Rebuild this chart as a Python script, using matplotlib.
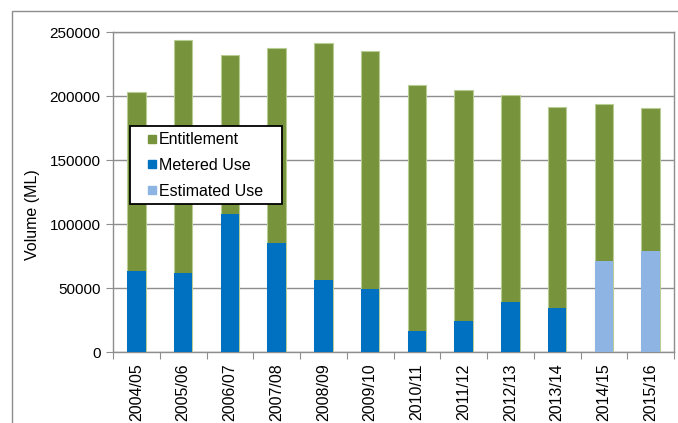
import matplotlib
matplotlib.use("Agg")
import matplotlib.pyplot as plt
from matplotlib.lines import Line2D
from matplotlib.patches import Rectangle
import numpy as np

years = ["2004/05", "2005/06", "2006/07", "2007/08", "2008/09", "2009/10",
         "2010/11", "2011/12", "2012/13", "2013/14", "2014/15", "2015/16"]
entitlement = [203000, 244000, 232000, 237500, 241400, 235600,
               209100, 204700, 201000, 191900, 193700, 191100]
metered_use = [63800, 62000, 108300, 85400, 56500, 49200,
               16400, 24500, 39300, 34600, 0, 0]
estimated_use = [0, 0, 0, 0, 0, 0, 0, 0, 0, 0, 71100, 79100]
yticks = [0, 50000, 100000, 150000, 200000, 250000]

GREEN = "#77933C"
BLUE = "#0070C0"
LBLUE = "#8DB4E2"

plt.rcParams['font.family'] = ['Liberation Sans', 'DejaVu Sans']

fig = plt.figure(figsize=(6.78, 4.23), dpi=100)
# outer chart frame
fig.patches.append(Rectangle((12 / 678, -0.1), 1.2, (423 - 11) / 423 + 0.1,
                             transform=fig.transFigure, fill=False,
                             edgecolor="#8C8C8C", linewidth=1.0, zorder=0))

ax = fig.add_axes([113 / 678, (423 - 352.3) / 423, 561 / 678, 320 / 423])
x = np.arange(len(years))
w = 0.4
ax.bar(x, entitlement, width=w, color=GREEN, edgecolor="#B9CC94", linewidth=0.8, zorder=3)
ax.bar(x, metered_use, width=w, color=BLUE, edgecolor="none", zorder=4)
ax.bar(x, estimated_use, width=w, color=LBLUE, edgecolor="none", zorder=4)

ax.set_xlim(-0.5, len(years) - 0.5)
ax.set_ylim(0, 250000)
ax.set_yticks(yticks)
ax.set_yticklabels([str(v) for v in yticks], fontsize=11)
ax.yaxis.grid(True, color="#8E8E8E", linewidth=1.0, zorder=0)
ax.set_axisbelow(True)

ax.set_xticks(np.arange(-0.5, len(years), 1.0), minor=False)
ax.set_xticklabels([])
ax.set_xticks(x, minor=True)
ax.set_xticklabels(years, minor=True, rotation=90, fontsize=11.5)
ax.tick_params(axis='x', which='major', length=5, color="#8E8E8E", direction='out')
ax.tick_params(axis='x', which='minor', length=0, pad=8)
ax.tick_params(axis='y', length=5, color="#8E8E8E", direction='out', pad=4)

for s in ax.spines.values():
    s.set_color("#8E8E8E")
    s.set_linewidth(1.0)

ax.set_ylabel("Volume (ML)", fontsize=11.5)
ax.yaxis.set_label_coords((39.5 - 113) / 561, (352.3 - 215) / 320)

# legend frame (drawn separately to match generous padding)
x0, x1 = (130 - 113) / 561, (282 - 113) / 561
y0, y1 = (352.3 - 204) / 320, (352.3 - 125.7) / 320
ax.add_patch(Rectangle((x0, y0), x1 - x0, y1 - y0, transform=ax.transAxes,
                       facecolor="white", edgecolor="black", linewidth=1.3,
                       zorder=9, clip_on=False))

handles = [Line2D([], [], marker='s', linestyle='none', markersize=6, color=c)
           for c in (GREEN, BLUE, LBLUE)]
leg = ax.legend(handles, ["Entitlement", "Metered Use", "Estimated Use"],
                loc='center left', bbox_to_anchor=((148 - 113) / 561, (352.3 - 165.5) / 320),
                fontsize=11.5, frameon=False,
                handlelength=0.5, handletextpad=0.2, labelspacing=0.67,
                borderpad=0, borderaxespad=0)
leg.set_zorder(10)

fig.savefig("out.png", dpi=100)
